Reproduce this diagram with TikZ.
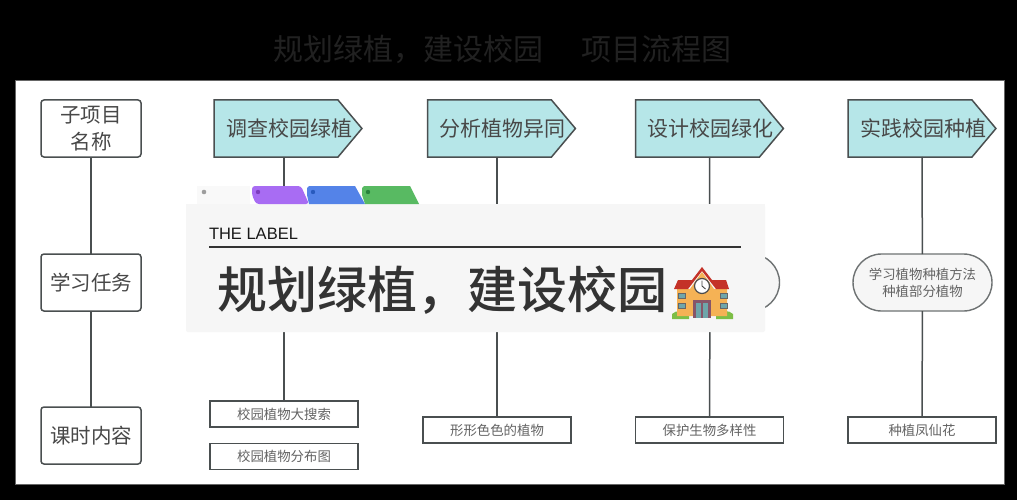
\documentclass[tikz,border=0pt]{standalone}
\usepackage{fontspec}
\setmainfont{Noto Sans CJK SC}
\newfontfamily\latinfont{Liberation Sans}
\newfontfamily\bigfont{Noto Sans CJK SC Medium}
\usetikzlibrary{shapes.symbols,shapes.misc}
\definecolor{linec}{HTML}{4A4F50}
\definecolor{tealc}{HTML}{B6E6E8}
\definecolor{textc}{HTML}{484848}
\definecolor{cardc}{HTML}{F6F6F6}
\definecolor{tabp}{RGB}{168,108,243}
\definecolor{tabb}{RGB}{84,131,232}
\definecolor{tabg}{RGB}{88,186,98}
\definecolor{dotp}{RGB}{125,60,190}
\definecolor{dotb}{RGB}{40,90,190}
\definecolor{dotg}{RGB}{40,130,60}
\definecolor{grassc}{RGB}{125,190,70}
\definecolor{wallc}{RGB}{245,178,85}
\definecolor{roofc}{RGB}{196,50,40}
\definecolor{winc}{RGB}{110,165,170}
\definecolor{doorc}{RGB}{135,85,105}
\newcommand{\fs}[1]{\fontsize{#1}{\dimexpr#1pt*5/4\relax}\selectfont}
\newcommand{\ptxt}[1]{\makebox[124pt]{\hspace{26pt}#1}}
\tikzset{
  x=1pt,y=-1pt,
  every node/.style={inner sep=0pt,outer sep=0pt},
  headbox/.style={draw=linec,line width=1.5pt,fill=white,rounded corners=3pt,minimum width=100pt,minimum height=57pt,align=center,text=textc,font=\fs{20.5}},
  arrowbox/.style={shape=signal,signal to=east,signal from=nowhere,signal pointer angle=100,draw=linec,line width=1.5pt,fill=tealc,minimum height=57pt,text=textc,font=\fs{21}},
  itembox/.style={draw=linec,line width=1.3pt,fill=white,minimum width=148pt,minimum height=26pt,text=textc!85,font=\fs{13.4}},
  taskbox/.style={draw=linec!80,line width=1.4pt,fill=cardc,rounded rectangle,minimum width=139pt,minimum height=57pt,align=center,text=textc!85,font=\fs{13.4}},
  wire/.style={draw=linec,line width=1.5pt},
  winbox/.style={fill=winc,draw=black!60,line width=.5pt},
}
\begin{document}
\begin{tikzpicture}
\useasboundingbox (0,0) rectangle (1017,500);
\fill[black] (0,0) rectangle (1017,500);
\fill[white,draw=gray!80!black,line width=1pt] (15,81) rectangle (1004,484);
\node[text=white!13!black,font=\fs{30},anchor=center] (title1) at (408.5,49) {规划绿植，建设校园};
\node[text=white!13!black,font=\fs{30},anchor=center] (title2) at (656,49) {项目流程图};

% left column
\node[headbox] (h1) at (91,128.5) {子项目\\[1pt]名称};
\node[headbox] (h2) at (91,282.5) {学习任务};
\node[headbox] (h3) at (91,435.5) {课时内容};
\draw[wire] (h1) -- (h2);
\draw[wire] (h2) -- (h3);

% top row
\node[arrowbox] (p1) at (276,128.5) {\ptxt{调查校园绿植}};
\node[arrowbox] (p2) at (489.5,128.5) {\ptxt{分析植物异同}};
\node[arrowbox] (p3) at (697.5,128.5) {\ptxt{设计校园绿化}};
\node[arrowbox] (p4) at (910,128.5) {\ptxt{实践校园种植}};

% bottom row
\node[itembox] (b1) at (284,414) {校园植物大搜索};
\node[itembox] (b1b) at (284,456.5) {校园植物分布图};
\node[itembox] (b2) at (497,430) {形形色色的植物};
\node[itembox] (b3) at (709.5,430) {保护生物多样性};
\node[itembox] (b4) at (922,430) {种植凤仙花};

% task row
\node[taskbox] (t3) at (710,282.5) {};
\node[taskbox] (t4) at (922.5,282.5) {学习植物种植方法\\种植部分植物};

\draw[wire] (p1.south -| b1) -- (b1);
\draw[wire] (p2.south -| b2) -- (b2);
\draw[wire] (p3.south -| b3) -- (t3);
\draw[wire] (t3) -- (b3);
\draw[wire] (p4.south -| b4) -- (t4);
\draw[wire] (t4) -- (b4);

% tabs
\fill[cardc!70!white] (197,186) rectangle (250,205);
\fill[cardc,rounded corners=2pt] (186,332) rectangle (765,205);
\fill[cardc] (186,204) rectangle (765,210);
\fill[white!62!black] (204,192) circle (2.3);
\fill[tabp,rounded corners=3pt] (256,204) -- (252,195) -- (252,186) -- (301,186) -- (309,204) -- cycle;
\fill[tabb] (309,204) -- (307,195) -- (307,188) -- (309,186) -- (355,186) -- (365,204) -- cycle;
\fill[tabg] (365,204) -- (362,195) -- (362,188) -- (364,186) -- (410,186) -- (419,204) -- cycle;
\fill[dotp] (258,192) circle (2.2);
\fill[dotb] (313,192) circle (2.2);
\fill[dotg] (368,192) circle (2.2);

% card content
\node[anchor=base west,text=black!90,font=\latinfont\fs{16.5}] (lab) at (209,239) {THE LABEL};
\coordinate (rs) at (209,247);
\coordinate (re) at (741,247);
\draw[line width=1.6pt,color=black!80] (rs) -- (re);
\node[anchor=center,text=black!80,font=\bigfont\fs{50}] (big) at (442.5,290) {规划绿植，建设校园};

% school emoji
\fill[grassc] (672,319) -- (672,314) .. controls (676,310) and (684,310) .. (689,314) -- (689,319) -- cycle;
\fill[grassc] (716,319) -- (716,314) .. controls (721,310) and (729,310) .. (733,314) -- (733,319) -- cycle;
\fill[wallc] (677,289) -- (690,289) -- (702,272) -- (714,289) -- (727,289) -- (727,316) -- (677,316) -- cycle;
\fill[roofc] (678,280) -- (692,280) -- (702,267) -- (712,280) -- (726,280) -- (729,289) -- (716,289) -- (702,271) -- (688,289) -- (674,289) -- cycle;
\path[winbox] (678,293) rectangle (685,298);
\path[winbox] (678,303) rectangle (685,308);
\path[winbox] (720,293) rectangle (727,298);
\path[winbox] (720,303) rectangle (727,308);
\fill[doorc] (693,300) rectangle (711,318);
\fill[winc] (696,303) rectangle (701,318);
\fill[winc] (703,303) rectangle (708,318);
\fill[white,draw=black!70,line width=1.2pt] (702,286) circle (7.5);
\draw[black!75,line width=.9pt] (702,280.5) -- (702,286) -- (705.5,289);
\end{tikzpicture}
\end{document}
